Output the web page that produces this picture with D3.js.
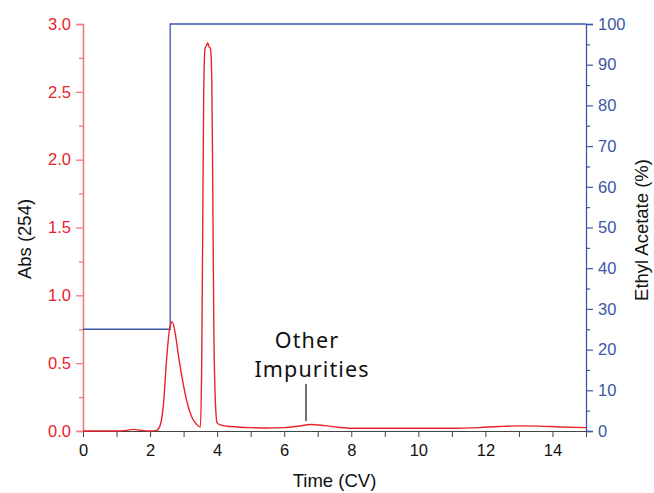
<!DOCTYPE html>
<html>
<head>
<meta charset="utf-8">
<script src="https://cdn.jsdelivr.net/npm/d3@7"></script>
<style>
  body { margin: 0; background: #fff; }
  svg { display: block; }
  .tick text { font-family: "Liberation Sans", Arial, sans-serif; font-size: 16.5px; }
</style>
</head>
<body>
<div id="chart"></div>
<script>
// UV trace (time in CV, absorbance at 254 nm)
const traceTime = [0, 0.5, 1.0, 1.3, 1.5, 1.7, 2.0, 2.2, 2.3, 2.4, 2.5, 2.58, 2.66, 2.75, 2.85, 2.95, 3.05, 3.15, 3.25, 3.35, 3.45, 3.50,
  3.54, 3.57, 3.60, 3.64, 3.68, 3.72, 3.76, 3.80, 3.84, 3.87, 3.90, 3.95, 4.0, 4.1, 4.3, 4.6, 5.0, 5.5, 6.0, 6.4, 6.8, 7.2, 7.6, 8.0,
  9.0, 10, 11, 11.8, 12.4, 13.0, 13.6, 14.2, 15];
const traceAbs = [0.00, 0.00, 0.00, 0.005, 0.012, 0.006, 0.00, 0.005, 0.04, 0.2, 0.55, 0.75, 0.805, 0.72, 0.55, 0.40, 0.27, 0.17, 0.10, 0.06, 0.035, 0.03,
  0.5, 1.5, 2.5, 2.82, 2.84, 2.86, 2.83, 2.82, 2.6, 1.8, 0.8, 0.2, 0.06, 0.045, 0.035, 0.03, 0.025, 0.022, 0.025, 0.035, 0.048, 0.04, 0.028, 0.02,
  0.02, 0.02, 0.02, 0.025, 0.033, 0.038, 0.036, 0.03, 0.025];

// solvent gradient (% ethyl acetate)
const gradTime = [0, 2.6, 2.6, 15];
const gradPct = [25, 25, 100, 100];

const xTicks = [0, 2, 4, 6, 8, 10, 12, 14];
const absTicks = [0, 0.5, 1.0, 1.5, 2.0, 2.5, 3.0];
const pctTicks = [0, 10, 20, 30, 40, 50, 60, 70, 80, 90, 100];

const red = "#e8232a", redAxis = "#f07a7e", blue = "#3d56a6";

const width = 654, height = 493;
const margin = {top: 24, right: 68, bottom: 62, left: 83};

const svg = d3.select("#chart").append("svg")
    .attr("width", width)
    .attr("height", height);

const x = d3.scaleLinear().domain([0, 15]).range([margin.left, width - margin.right]);
const yAbs = d3.scaleLinear().domain([0, 3]).range([height - margin.bottom, margin.top]);
const yPct = d3.scaleLinear().domain([0, 100]).range([height - margin.bottom, margin.top]);

// bottom axis
const xAxis = svg.append("g")
    .attr("transform", "translate(0," + (height - margin.bottom) + ")")
    .call(d3.axisBottom(x).tickValues(d3.range(0, 16, 1)).tickSize(6)
        .tickFormat(d => xTicks.includes(d) ? d : ""));
xAxis.select(".domain").attr("stroke", "#444");
xAxis.selectAll(".tick line").attr("stroke", "#444");
xAxis.selectAll(".tick text").attr("fill", "#111").attr("dy", "0.95em");

// left axis (absorbance)
const leftMinor = svg.append("g")
    .attr("transform", "translate(" + margin.left + ",0)")
    .call(d3.axisLeft(yAbs).tickValues(d3.range(0.25, 3, 0.5)).tickSize(4).tickFormat(""));
leftMinor.select(".domain").remove();
leftMinor.selectAll(".tick line").attr("stroke", redAxis).attr("stroke-width", 1.3);

const leftAxis = svg.append("g")
    .attr("transform", "translate(" + margin.left + ",0)")
    .call(d3.axisLeft(yAbs).tickValues(absTicks).tickSize(7).tickPadding(5).tickFormat(d3.format(".1f")));
leftAxis.select(".domain").attr("stroke", redAxis).attr("stroke-width", 1.6);
leftAxis.selectAll(".tick line").attr("stroke", redAxis).attr("stroke-width", 1.3);
leftAxis.selectAll(".tick text").attr("fill", red);

// right axis (gradient)
const rightMinor = svg.append("g")
    .attr("transform", "translate(" + (width - margin.right) + ",0)")
    .call(d3.axisRight(yPct).tickValues(d3.range(5, 100, 10)).tickSize(4).tickFormat(""));
rightMinor.select(".domain").remove();
rightMinor.selectAll(".tick line").attr("stroke", blue).attr("stroke-width", 1.2);

const rightAxis = svg.append("g")
    .attr("transform", "translate(" + (width - margin.right) + ",0)")
    .call(d3.axisRight(yPct).tickValues(pctTicks).tickSize(7).tickPadding(5));
rightAxis.select(".domain").attr("stroke", blue).attr("stroke-width", 1.3);
rightAxis.selectAll(".tick line").attr("stroke", blue).attr("stroke-width", 1.2);
rightAxis.selectAll(".tick text").attr("fill", blue);

// gradient step line
const gradLine = d3.line()
    .x((d, i) => x(gradTime[i]))
    .y(d => yPct(d));
svg.append("path")
    .attr("d", gradLine(gradPct))
    .attr("fill", "none")
    .attr("stroke", blue)
    .attr("stroke-width", 1.3);

// UV trace
const traceLine = d3.line()
    .x((d, i) => x(traceTime[i]))
    .y(d => yAbs(d))
    .curve(d3.curveMonotoneX);
svg.append("path")
    .attr("d", traceLine(traceAbs))
    .attr("fill", "none")
    .attr("stroke", red)
    .attr("stroke-width", 1.4);

// annotation, two separate lines
[["Other", 307, 348], ["Impurities", 312, 377]].forEach(([txt, tx, ty]) => {
    svg.append("text")
        .attr("x", tx)
        .attr("y", ty)
        .attr("font-family", "'Noto Sans', 'Open Sans', sans-serif")
        .attr("font-size", 21.5)
        .attr("letter-spacing", 1.1)
        .style("font-variant-ligatures", "none")
        .attr("fill", "#111")
        .attr("text-anchor", "middle")
        .text(txt);
});
svg.append("line")
    .attr("x1", x(6.65)).attr("x2", x(6.65))
    .attr("y1", 384).attr("y2", 421)
    .attr("stroke", "#111")
    .attr("stroke-width", 1.2);

// axis titles
svg.append("text")
    .attr("x", x(7.5))
    .attr("y", 487)
    .attr("text-anchor", "middle")
    .attr("font-family", "'Liberation Sans', Arial, sans-serif")
    .attr("font-size", 18.5)
    .attr("fill", "#111")
    .text("Time (CV)");

svg.append("text")
    .attr("transform", "translate(31," + 239 + ") rotate(-90)")
    .attr("text-anchor", "middle")
    .attr("font-family", "'Liberation Sans', Arial, sans-serif")
    .attr("font-size", 18.5)
    .attr("fill", "#111")
    .text("Abs (254)");

svg.append("text")
    .attr("transform", "translate(648," + 230 + ") rotate(-90)")
    .attr("text-anchor", "middle")
    .attr("font-family", "'Liberation Sans', Arial, sans-serif")
    .attr("font-size", 18.5)
    .attr("fill", "#111")
    .text("Ethyl Acetate (%)");
</script>
</body>
</html>
